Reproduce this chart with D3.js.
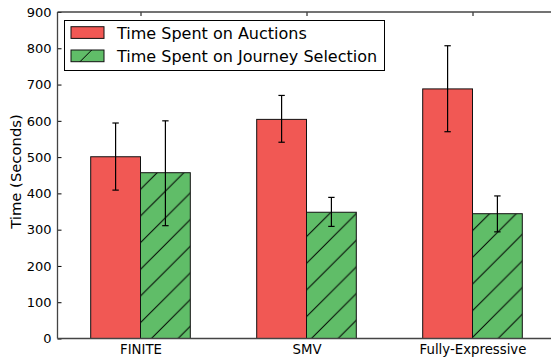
<!DOCTYPE html>
<html>
<head>
<meta charset="utf-8">
<script src="https://cdn.jsdelivr.net/npm/d3@7"></script>
<style>
  html, body { margin: 0; padding: 0; background: #fff; }
  svg { display: block; font-family: "DejaVu Sans", sans-serif; }
</style>
</head>
<body>
<svg id="chart" width="551" height="358"></svg>
<script>
// Mean time per configuration, with lower/upper error bar ends
const categories = ["FINITE", "SMV", "Fully-Expressive"];
const seriesNames = ["Time Spent on Auctions", "Time Spent on Journey Selection"];
const auctions = [501, 604, 688];
const auctionsLow = [409, 541, 570];
const auctionsHigh = [594, 670, 807];
const journey = [457, 348, 344];
const journeyLow = [311, 309, 294];
const journeyHigh = [600, 389, 393];
const yTicks = [0, 100, 200, 300, 400, 500, 600, 700, 800, 900];

const colors = ["#F15854", "#60BD68"];

const svg = d3.select("#chart");
const margin = { left: 57.5, top: 12, bottom: 338.5 };

const x = d3.scaleLinear().domain([-0.5, 2.5]).range([margin.left, margin.left + 6 * 83]);
const y = d3.scaleLinear().domain([0, 900]).range([margin.bottom, margin.top]);
const barW = x(0.3) - x(0);

// diagonal hatch for the second series
const defs = svg.append("defs");
const hp = 26.67;
const pat = defs.append("pattern")
  .attr("id", "hatch")
  .attr("patternUnits", "userSpaceOnUse")
  .attr("x", 9.8).attr("y", 0)
  .attr("width", hp).attr("height", hp);
pat.append("rect").attr("width", hp).attr("height", hp).attr("fill", colors[1]);
pat.append("path")
  .attr("d", `M0,${hp} L${hp},0 M${-hp / 2},${hp / 2} L${hp / 2},${-hp / 2} M${hp / 2},${hp * 1.5} L${hp * 1.5},${hp / 2}`)
  .attr("stroke", "#000").attr("stroke-width", 1);

const data = categories.map((c, i) => ({
  cat: i,
  vals: [
    { s: 0, v: auctions[i], lo: auctionsLow[i], hi: auctionsHigh[i] },
    { s: 1, v: journey[i], lo: journeyLow[i], hi: journeyHigh[i] }
  ]
}));

const plot = svg.append("g");

const groups = plot.selectAll("g.grp").data(data).join("g").attr("class", "grp");

groups.selectAll("rect").data(d => d.vals.map(v => ({ ...v, cat: d.cat })))
  .join("rect")
  .attr("x", d => x(d.cat - 0.3 + d.s * 0.3))
  .attr("y", d => y(d.v))
  .attr("width", barW)
  .attr("height", d => y(0) - y(d.v))
  .attr("fill", d => d.s === 0 ? colors[0] : "url(#hatch)")
  .attr("stroke", "#111")
  .attr("stroke-width", 1);

// error bars
const eb = groups.selectAll("g.err").data(d => d.vals.map(v => ({ ...v, cat: d.cat })))
  .join("g").attr("class", "err");
eb.each(function (d) {
  const g = d3.select(this);
  const cx = x(d.cat - 0.15 + d.s * 0.3);
  g.append("line").attr("x1", cx).attr("x2", cx).attr("y1", y(d.lo)).attr("y2", y(d.hi))
    .attr("stroke", "#000").attr("stroke-width", 1.2);
  [d.lo, d.hi].forEach(v => {
    g.append("line").attr("x1", cx - 3.2).attr("x2", cx + 3.2).attr("y1", y(v)).attr("y2", y(v))
      .attr("stroke", "#000").attr("stroke-width", 1.2);
  });
});

// axes
const axisColor = "#444";
const yAxis = svg.append("g")
  .attr("transform", `translate(${margin.left},0)`)
  .call(d3.axisLeft(y).tickValues(yTicks).tickSize(-4).tickPadding(6));
yAxis.select(".domain").remove();
yAxis.selectAll(".tick line").attr("stroke", "#000");
yAxis.selectAll("text").attr("font-size", 13).attr("fill", "#000")
  .attr("font-family", "DejaVu Sans, sans-serif");

const xAxis = svg.append("g")
  .attr("transform", `translate(0,${margin.bottom})`)
  .call(d3.axisBottom(x).tickValues([0, 1, 2]).tickFormat(i => categories[i]).tickSize(0).tickPadding(6));
xAxis.select(".domain").remove();
xAxis.selectAll("text").attr("font-size", 13.3).attr("fill", "#000")
  .attr("font-family", "DejaVu Sans, sans-serif");

const xTop = svg.append("g")
  .attr("transform", `translate(0,${margin.top})`)
  .call(d3.axisTop(x).tickValues([0, 1, 2]).tickFormat("").tickSize(-4));
xTop.select(".domain").remove();
xTop.selectAll(".tick line").attr("stroke", "#000");

// spines
svg.append("line").attr("x1", margin.left).attr("x2", margin.left).attr("y1", margin.top).attr("y2", margin.bottom)
  .attr("stroke", axisColor).attr("stroke-width", 1.3);
svg.append("line").attr("x1", margin.left).attr("x2", 551).attr("y1", margin.top).attr("y2", margin.top)
  .attr("stroke", axisColor).attr("stroke-width", 1.3);
svg.append("line").attr("x1", margin.left).attr("x2", 551).attr("y1", margin.bottom).attr("y2", margin.bottom)
  .attr("stroke", axisColor).attr("stroke-width", 1.3);

// y axis title
svg.append("text")
  .attr("transform", `translate(20.5,171.5) rotate(-90)`)
  .attr("text-anchor", "middle")
  .attr("font-size", 14.8)
  .text("Time (Seconds)");

// legend
const legend = svg.append("g");
legend.append("rect").attr("x", 64.5).attr("y", 20.5).attr("width", 320).attr("height", 50)
  .attr("fill", "#fff").attr("stroke", "#000").attr("stroke-width", 1);
seriesNames.forEach((name, i) => {
  const ly = 26.7 + i * 23.3;
  legend.append("rect").attr("x", 71).attr("y", ly).attr("width", 33).attr("height", 11.7)
    .attr("fill", i === 0 ? colors[0] : colors[1]).attr("stroke", "#111").attr("stroke-width", 1);
  if (i === 1) {
    legend.append("line").attr("x1", 80).attr("y1", ly + 11.7).attr("x2", 91.7).attr("y2", ly)
      .attr("stroke", "#000").attr("stroke-width", 1);
  }
  legend.append("text").attr("x", 117).attr("y", ly + 11.8)
    .attr("font-size", 16).text(name);
});
</script>
</body>
</html>
